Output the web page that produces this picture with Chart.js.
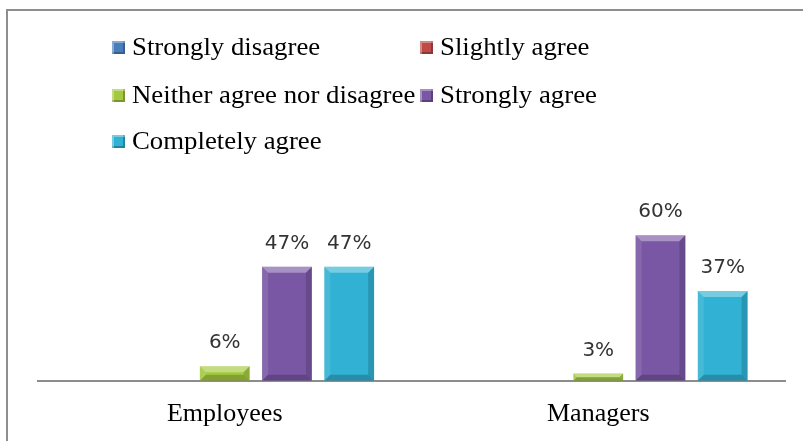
<!DOCTYPE html>
<html>
<head>
<meta charset="utf-8">
<script src="https://cdn.jsdelivr.net/npm/chart.js@4.4.1/dist/chart.umd.min.js"></script>
<style>
  html, body { margin: 0; padding: 0; background: #fff; }
  #wrap { position: relative; width: 803px; height: 441px; overflow: hidden; }
  #frame { position: absolute; left: 6px; top: 9px; right: -10px; bottom: -10px;
           border-left: 2px solid #8e8e8e; border-top: 2px solid #8e8e8e; }
  #legend { position: absolute; left: 0; top: 0; font-family: "Liberation Serif", "Times New Roman", serif; font-size: 26px; color: #000; }
  .item { position: absolute; display: flex; align-items: center; height: 26px; white-space: nowrap; }
  .box { width: 13px; height: 13px; margin-right: 7px; box-shadow: inset 2px 2px 0 rgba(255,255,255,0.35), inset -2px -2px 0 rgba(0,0,0,0.25); }
  .txt { display: inline-block; transform: scaleX(1.03); transform-origin: left center; }
  canvas { position: absolute; left: 0; top: 0; }
</style>
</head>
<body>
<div id="wrap">
  <div id="frame"></div>
  <canvas id="chart" width="803" height="441"></canvas>
  <div id="legend"></div>
</div>
<script>
const categories = ['Employees', 'Managers'];
const seriesNames = ['Strongly disagree', 'Slightly agree', 'Neither agree nor disagree', 'Strongly agree', 'Completely agree'];
const seriesColors = ['#4a7ebb', '#be4b48', '#a4c940', '#7a57a4', '#31b1d3'];
const stronglyDisagree = [0, 0];
const slightlyAgree = [0, 0];
const neitherAgree = [6, 3];
const stronglyAgree = [47, 60];
const completelyAgree = [47, 37];
const seriesValues = [stronglyDisagree, slightlyAgree, neitherAgree, stronglyAgree, completelyAgree];

// legend: two columns, drawn as html text
const legendPos = [[112, 34], [420, 34], [112, 82], [420, 82], [112, 128]];
const legendEl = document.getElementById('legend');
seriesNames.forEach((name, i) => {
    const it = document.createElement('div');
    it.className = 'item';
    it.style.left = legendPos[i][0] + 'px';
    it.style.top = legendPos[i][1] + 'px';
    it.innerHTML = '<span class="box" style="background:' + seriesColors[i] + '"></span><span class="txt">' + name + '</span>';
    legendEl.appendChild(it);
});

// bevelled look of the office bars
const bevelPlugin = {
    id: 'bevel',
    afterDatasetsDraw(chart) {
        const ctx = chart.ctx;
        chart.data.datasets.forEach((ds, di) => {
            chart.getDatasetMeta(di).data.forEach(bar => {
                const h = bar.base - bar.y;
                if (h < 1) return;
                const l = bar.x - bar.width / 2, r = bar.x + bar.width / 2;
                const t = bar.y, b = bar.base;
                const s = Math.min(6, h / 2);
                ctx.save();
                ctx.fillStyle = 'rgba(255,255,255,0.35)';
                ctx.beginPath();
                ctx.moveTo(l, t); ctx.lineTo(r, t); ctx.lineTo(r - s, t + s); ctx.lineTo(l + s, t + s);
                ctx.fill();
                ctx.fillStyle = 'rgba(255,255,255,0.1)';
                ctx.beginPath();
                ctx.moveTo(l, t); ctx.lineTo(l + s, t + s); ctx.lineTo(l + s, b - s); ctx.lineTo(l, b);
                ctx.fill();
                ctx.fillStyle = 'rgba(0,0,0,0.15)';
                ctx.beginPath();
                ctx.moveTo(r, t); ctx.lineTo(r - s, t + s); ctx.lineTo(r - s, b - s); ctx.lineTo(r, b);
                ctx.fill();
                ctx.fillStyle = 'rgba(0,0,0,0.2)';
                ctx.beginPath();
                ctx.moveTo(l, b); ctx.lineTo(l + s, b - s); ctx.lineTo(r - s, b - s); ctx.lineTo(r, b);
                ctx.fill();
                ctx.restore();
            });
        });
    }
};

// value labels above bars
const valueLabels = {
    id: 'valueLabels',
    afterDatasetsDraw(chart) {
        const ctx = chart.ctx;
        ctx.save();
        ctx.font = '20px "DejaVu Sans", Verdana, sans-serif';
        ctx.fillStyle = '#333';
        ctx.textAlign = 'center';
        ctx.textBaseline = 'alphabetic';
        chart.data.datasets.forEach((ds, di) => {
            chart.getDatasetMeta(di).data.forEach((bar, i) => {
                const v = ds.data[i];
                if (!v) return;
                ctx.fillText(v + '%', bar.x, bar.y - 18);
            });
        });
        ctx.restore();
    }
};

new Chart(document.getElementById('chart'), {
    type: 'bar',
    data: {
        labels: categories,
        datasets: seriesNames.map((name, i) => ({
            label: name,
            data: seriesValues[i],
            backgroundColor: seriesColors[i],
            borderWidth: 0,
            categoryPercentage: 0.833,
            barPercentage: 0.8
        }))
    },
    options: {
        responsive: false,
        animation: false,
        layout: { padding: { left: 38, right: 18, top: 211, bottom: 1 } },
        plugins: { legend: { display: false }, tooltip: { enabled: false } },
        scales: {
            x: {
                grid: { display: false },
                border: { display: true, color: '#8c8c8c', width: 2 },
                ticks: { color: '#000', padding: 10, font: { family: '"Liberation Serif", "Times New Roman", serif', size: 26 } }
            },
            y: { display: false, min: 0, max: 70 }
        }
    },
    plugins: [bevelPlugin, valueLabels]
});
</script>
</body>
</html>
